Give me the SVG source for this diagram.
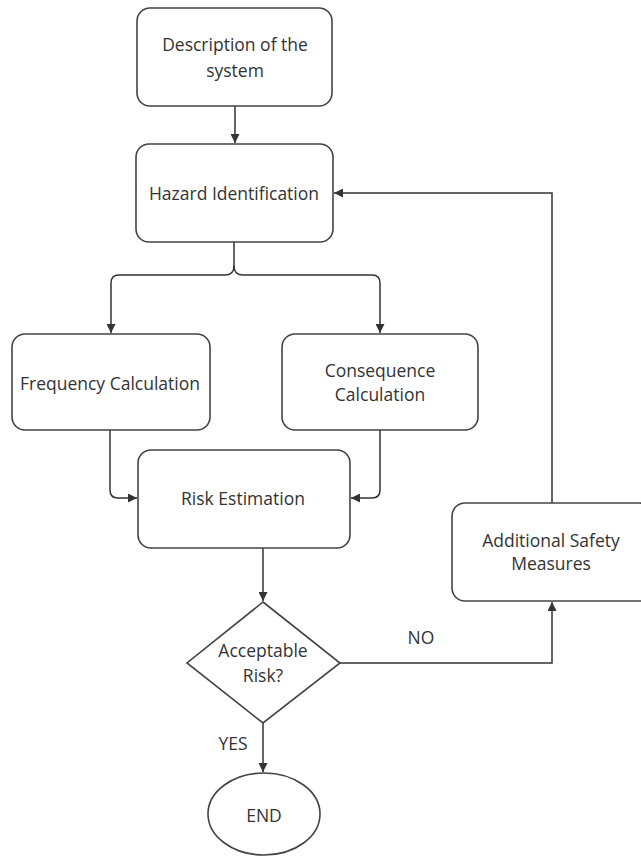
<svg xmlns="http://www.w3.org/2000/svg" width="641" height="857" viewBox="0 0 641 857">
<defs>
<marker id="arr" viewBox="0 0 10 10" refX="10" refY="5" markerWidth="9" markerHeight="9" markerUnits="userSpaceOnUse" orient="auto">
<path d="M0,0 L10,5 L0,10 Z" fill="#333"/>
</marker>
<style>
.box{fill:#fff;stroke:#444;stroke-width:1.6}
.t{font-family:"Open Sans","Liberation Sans",sans-serif;font-size:17.5px;fill:#333;text-anchor:middle;dominant-baseline:central}
.c{fill:none;stroke:#333;stroke-width:1.5}
</style>
</defs>
<rect width="641" height="857" fill="#fff"/>
<g id="connectors">
<path class="c" d="M235,106 V143" marker-end="url(#arr)"/>
<path class="c" d="M234,242 V266 Q234,275 225,275 H119 Q111,275 111,283 V333" marker-end="url(#arr)"/>
<path class="c" d="M234,266 Q234,275 243,275 H372 Q380,275 380,283 V333" marker-end="url(#arr)"/>
<path class="c" d="M110,430 V490 Q110,498 118,498 H137" marker-end="url(#arr)"/>
<path class="c" d="M380,430 V490 Q380,498 372,498 H351" marker-end="url(#arr)"/>
<path class="c" d="M263,548 V601" marker-end="url(#arr)"/>
<path class="c" d="M340,663 H552 V602" marker-end="url(#arr)"/>
<path class="c" d="M552,503 V193 H334" marker-end="url(#arr)"/>
<path class="c" d="M263,723 V772" marker-end="url(#arr)"/>
<text class="t" x="421" y="637">NO</text>
<text class="t" x="233" y="743">YES</text>
</g>
<g id="description">
<rect class="box" x="137" y="8" width="195" height="98" rx="13"/>
<text class="t" x="235" y="44">Description of the</text>
<text class="t" x="235" y="70">system</text>
</g>
<g id="hazard">
<rect class="box" x="136" y="144" width="197" height="98" rx="13"/>
<text class="t" x="234" y="193">Hazard Identification</text>
</g>
<g id="frequency">
<rect class="box" x="12" y="334" width="198" height="96" rx="13"/>
<text class="t" x="110" y="383">Frequency Calculation</text>
</g>
<g id="consequence">
<rect class="box" x="282" y="334" width="196" height="96" rx="13"/>
<text class="t" x="380" y="370">Consequence</text>
<text class="t" x="380" y="394">Calculation</text>
</g>
<g id="risk">
<rect class="box" x="138" y="450" width="212" height="98" rx="13"/>
<text class="t" x="243" y="498">Risk Estimation</text>
</g>
<g id="safety">
<rect class="box" x="452" y="503" width="200" height="98" rx="13"/>
<text class="t" x="551" y="540">Additional Safety</text>
<text class="t" x="551" y="563">Measures</text>
</g>
<g id="acceptable">
<polygon class="box" points="263,602 340,663 263,723 187,663"/>
<text class="t" x="263" y="650">Acceptable</text>
<text class="t" x="263" y="675">Risk?</text>
</g>
<g id="end">
<ellipse class="box" cx="264" cy="814" rx="56" ry="41"/>
<text class="t" x="264" y="815">END</text>
</g>
</svg>
